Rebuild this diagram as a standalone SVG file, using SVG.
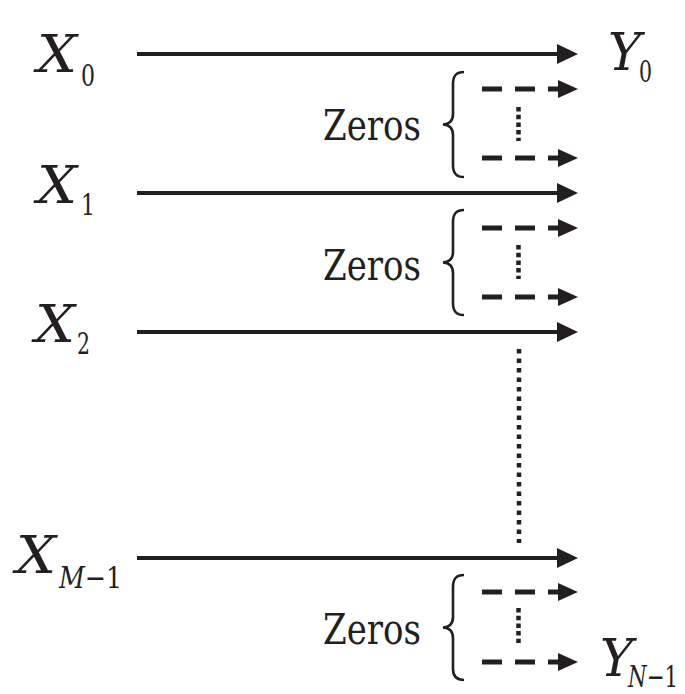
<svg xmlns="http://www.w3.org/2000/svg" width="685" height="694" viewBox="0 0 685 694">
<defs>
<style>
text{fill:#231f20;font-family:'DejaVu Serif Condensed','DejaVu Serif',serif;font-stretch:condensed}
.sym{font-style:italic;font-size:52px}
.sub{font-size:30px}
.subi{font-style:italic}
.lbl{font-size:42px}
.solid{stroke:#231f20;stroke-width:4;fill:none}
.dash{stroke:#231f20;stroke-width:5;fill:none;stroke-dasharray:20 13}
.dot{stroke:#231f20;stroke-width:4.5;fill:none;stroke-dasharray:4.5 5}
.sdot{stroke-dasharray:4.5 3.2}
.brace{stroke:#231f20;stroke-width:2.6;fill:none}
.head{fill:#231f20}
</style>
</defs>
<rect width="685" height="694" fill="#fff"/>

<g id="X0"><text class="sym" x="37" y="72" textLength="40" lengthAdjust="spacingAndGlyphs">X</text><text class="sub" x="81" y="86" textLength="14" lengthAdjust="spacingAndGlyphs">0</text></g>
<g id="X1"><text class="sym" x="37" y="203" textLength="40" lengthAdjust="spacingAndGlyphs">X</text><text class="sub" x="81" y="215" textLength="14" lengthAdjust="spacingAndGlyphs">1</text></g>
<g id="X2"><text class="sym" x="35" y="342" textLength="40" lengthAdjust="spacingAndGlyphs">X</text><text class="sub" x="77" y="354" textLength="13" lengthAdjust="spacingAndGlyphs">2</text></g>
<g id="XM1"><text class="sym" x="16" y="573" textLength="40" lengthAdjust="spacingAndGlyphs">X</text><text class="sub" x="59" y="588" textLength="63" lengthAdjust="spacingAndGlyphs"><tspan class="subi">M</tspan>−1</text></g>
<g id="Y0"><text class="sym" x="608" y="70" textLength="33" lengthAdjust="spacingAndGlyphs">Y</text><text class="sub" x="639" y="82" textLength="13" lengthAdjust="spacingAndGlyphs">0</text></g>
<g id="YN1"><text class="sym" x="600" y="676" textLength="33" lengthAdjust="spacingAndGlyphs">Y</text><text class="sub" x="628" y="687" font-size="28" textLength="50" lengthAdjust="spacingAndGlyphs"><tspan class="subi">N</tspan>−1</text></g>

<g id="zeros1">
<text class="lbl" x="323" y="140" textLength="98" lengthAdjust="spacingAndGlyphs">Zeros</text>
<path class="brace" d="M464,72 C456,72 453,76 453,84 L453,114 C453,120 450,124 443,124.5 C450,125 453,129 453,135 L453,165 C453,173 456,177 464,177"/>
</g>
<g id="zeros2">
<text class="lbl" x="323" y="280" textLength="98" lengthAdjust="spacingAndGlyphs">Zeros</text>
<path class="brace" d="M464,210 C456,210 453,214 453,222 L453,252 C453,258 450,262 443,262.5 C450,263 453,267 453,273 L453,303 C453,311 456,315 464,315"/>
</g>
<g id="zeros3">
<text class="lbl" x="323" y="644" textLength="98" lengthAdjust="spacingAndGlyphs">Zeros</text>
<path class="brace" d="M464,575 C456,575 453,579 453,587 L453,617 C453,623 450,627 443,627.5 C450,628 453,632 453,638 L453,669 C453,676 456,680 464,680"/>
</g>

<g id="connectors">
<line class="solid" x1="137" y1="54" x2="560" y2="54"/><polygon class="head" points="557,44 578,54 557,64"/>
<line class="solid" x1="137" y1="193" x2="560" y2="193"/><polygon class="head" points="557,183 578,193 557,203"/>
<line class="solid" x1="137" y1="332" x2="560" y2="332"/><polygon class="head" points="557,322 578,332 557,342"/>
<line class="solid" x1="137" y1="558" x2="560" y2="558"/><polygon class="head" points="557,548 578,558 557,568"/>

<line class="dash" x1="482" y1="89" x2="562" y2="89"/><polygon class="head" points="558,80 578,89 558,98"/>
<line class="dash" x1="482" y1="158" x2="562" y2="158"/><polygon class="head" points="558,149 578,158 558,167"/>
<line class="dash" x1="482" y1="228" x2="562" y2="228"/><polygon class="head" points="558,219 578,228 558,237"/>
<line class="dash" x1="482" y1="297" x2="562" y2="297"/><polygon class="head" points="558,288 578,297 558,306"/>
<line class="dash" x1="482" y1="592" x2="562" y2="592"/><polygon class="head" points="558,583 578,592 558,601"/>
<line class="dash" x1="482" y1="662" x2="562" y2="662"/><polygon class="head" points="558,653 578,662 558,671"/>

<line class="dot sdot" x1="518.5" y1="107" x2="518.5" y2="141"/>
<line class="dot sdot" x1="518.5" y1="245" x2="518.5" y2="279"/>
<line class="dot" x1="519" y1="349" x2="519" y2="543"/>
<line class="dot sdot" x1="518.5" y1="608" x2="518.5" y2="643"/>
</g>
</svg>
